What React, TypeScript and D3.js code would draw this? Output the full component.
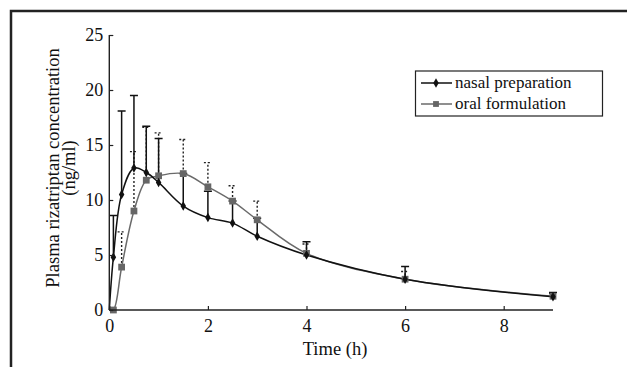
import { useEffect, useRef } from 'react';
import * as d3 from 'd3';

// sampling times (h)
const times = [0, 0.083, 0.25, 0.5, 0.75, 1, 1.5, 2, 2.5, 3, 4, 6, 9];
// nasal preparation: mean and upper end of error bar (ng/ml)
const nasalMean = [0, 4.8, 10.5, 12.9, 12.5, 11.6, 9.45, 8.4, 7.9, 6.7, 5.0, 2.8, 1.2];
const nasalTop = [NaN, 8.6, 18.1, 19.5, 16.7, 15.6, 12.4, 10.8, 9.9, 8.35, 6.2, 3.95, 1.6];
// oral formulation
const oralMean = [0, 0, 3.9, 9.0, 11.8, 12.2, 12.4, 11.2, 9.9, 8.2, 5.15, 2.8, 1.25];
const oralTop = [NaN, NaN, 7.1, 14.4, 16.6, 16.1, 15.5, 13.4, 11.3, 9.9, 6.0, 3.5, 1.5];

const xTicks = [0, 2, 4, 6, 8];
const yTicks = [0, 5, 10, 15, 20, 25];
const legendLabels = ['nasal preparation', 'oral formulation'];

const W = 627;
const H = 367;
const FONT = '"Liberation Serif", "Times New Roman", serif';

export default function App() {
  const svgRef = useRef<SVGSVGElement | null>(null);

  useEffect(() => {
    if (!svgRef.current) return;
    const svg = d3.select(svgRef.current);
    svg.selectAll('*').remove();

    const x = d3.scaleLinear().domain([0, 9]).range([109.3, 553]);
    const y = d3.scaleLinear().domain([0, 25]).range([310, 35]);

    // outer frame (only left and top edges are visible)
    svg.append('path')
      .attr('d', `M11,${H} V11 H${W}`)
      .attr('fill', 'none')
      .attr('stroke', '#222')
      .attr('stroke-width', 2.5);

    // error bars
    const bars = svg.append('g');
    const cap = 4;
    times.forEach((t, i) => {
      if (!isNaN(oralTop[i])) {
        bars.append('path')
          .attr('d', `M${x(t)},${y(oralMean[i])} V${y(oralTop[i])} M${x(t) - cap},${y(oralTop[i])} H${x(t) + cap}`)
          .attr('fill', 'none')
          .attr('stroke', '#222')
          .attr('stroke-width', 1.4)
          .attr('stroke-dasharray', '2,2');
      }
      if (!isNaN(nasalTop[i])) {
        bars.append('path')
          .attr('d', `M${x(t)},${y(nasalMean[i])} V${y(nasalTop[i])} M${x(t) - cap},${y(nasalTop[i])} H${x(t) + cap}`)
          .attr('fill', 'none')
          .attr('stroke', '#111')
          .attr('stroke-width', 1.5);
      }
    });

    const line = (vals: number[]) =>
      d3.line<number>()
        .x((_, i) => x(times[i]))
        .y((d) => y(d))
        .curve(d3.curveCatmullRom.alpha(0.5))(vals);

    svg.append('path')
      .attr('d', line(oralMean))
      .attr('fill', 'none')
      .attr('stroke', '#6a6a6a')
      .attr('stroke-width', 1.5);
    svg.append('path')
      .attr('d', line(nasalMean))
      .attr('fill', 'none')
      .attr('stroke', '#111')
      .attr('stroke-width', 1.5);

    // markers
    const diamond = d3.symbol(d3.symbolDiamond, 26);
    const square = d3.symbol(d3.symbolSquare, 46);
    svg.append('g').selectAll('path')
      .data(times.slice(1))
      .join('path')
      .attr('d', square())
      .attr('transform', (t, i) => `translate(${x(t)},${y(oralMean[i + 1])})`)
      .attr('fill', '#666');
    svg.append('g').selectAll('path')
      .data(times.slice(1))
      .join('path')
      .attr('d', diamond())
      .attr('transform', (t, i) => `translate(${x(t)},${y(nasalMean[i + 1])})`)
      .attr('fill', '#111');

    // axes
    const xAxis = svg.append('g').attr('transform', `translate(0,${y(0)})`)
      .call(d3.axisBottom(x).tickValues(xTicks).tickSizeInner(-4).tickSizeOuter(0).tickPadding(9));
    const yAxis = svg.append('g').attr('transform', `translate(${x(0)},0)`)
      .call(d3.axisLeft(y).tickValues(yTicks).tickSizeInner(-4).tickSizeOuter(0).tickPadding(6));
    [xAxis, yAxis].forEach((g) => {
      g.select('.domain').attr('stroke', '#222').attr('stroke-width', 1.4);
      g.selectAll('.tick line').attr('stroke', '#222').attr('stroke-width', 1.2);
      g.selectAll('.tick text')
        .attr('fill', '#111')
        .style('font-family', FONT)
        .style('font-size', '18px');
    });
    xAxis.select('.domain').attr('d', `M${x(0)},0H${x(9)}`);
    yAxis.select('.domain').attr('d', `M0,${y(0)}V${y(25)}`);

    // axis titles
    svg.append('text')
      .attr('x', 335)
      .attr('y', 355)
      .attr('text-anchor', 'middle')
      .style('font-family', FONT)
      .style('font-size', '18.5px')
      .attr('fill', '#111')
      .text('Time (h)');

    const yl = svg.append('text')
      .attr('transform', 'translate(59,168) rotate(-90)')
      .attr('text-anchor', 'middle')
      .style('font-family', FONT)
      .style('font-size', '18.5px')
      .attr('fill', '#111');
    yl.append('tspan').attr('x', 0).attr('y', 0).text('Plasma rizatriptan concentration');
    yl.append('tspan').attr('x', 0).attr('y', 16).text('(ng/ml)');

    // legend
    const lg = svg.append('g');
    lg.append('rect')
      .attr('x', 415.5).attr('y', 71).attr('width', 187).attr('height', 45)
      .attr('fill', 'white').attr('stroke', '#222').attr('stroke-width', 1.2);
    legendLabels.forEach((lab, i) => {
      const ly = 83 + i * 21;
      lg.append('line')
        .attr('x1', 421).attr('x2', 452).attr('y1', ly).attr('y2', ly)
        .attr('stroke', i === 0 ? '#111' : '#6a6a6a').attr('stroke-width', 1.5);
      lg.append('path')
        .attr('d', i === 0 ? diamond() : square.size(34)())
        .attr('transform', `translate(436,${ly})`)
        .attr('fill', i === 0 ? '#111' : '#666');
      lg.append('text')
        .attr('x', 455).attr('y', ly + 5)
        .style('font-family', FONT)
        .style('font-size', '17px')
        .attr('fill', '#111')
        .text(lab);
    });
  }, []);

  return (
    <div style={{ position: 'fixed', left: 0, top: 0, background: 'white' }}>
      <svg ref={svgRef} width={W} height={H} style={{ display: 'block' }} />
    </div>
  );
}
